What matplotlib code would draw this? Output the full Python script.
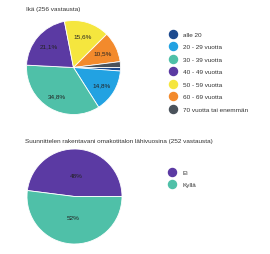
import matplotlib
matplotlib.use("Agg")
import matplotlib.pyplot as plt
from matplotlib.lines import Line2D

plt.rcParams['font.family'] = ['Liberation Sans', 'DejaVu Sans']

# --- Data ---
age_title = "Ikä (256 vastausta)"
age_labels = ["alle 20", "20 - 29 vuotta", "30 - 39 vuotta", "40 - 49 vuotta",
              "50 - 59 vuotta", "60 - 69 vuotta", "70 vuotta tai enemmän"]
age_values = [1.2, 14.8, 34.8, 21.1, 15.6, 10.5, 2.0]
age_colors = ["#1d4a8e", "#22a2e2", "#4fc0a8", "#5b3aa3", "#f5e63e", "#f38a2c", "#4a525b"]

plan_title = "Suunnittelen rakentavani omakotitalon lähivuosina (252 vastausta)"
plan_labels = ["Ei", "Kyllä"]
plan_values = [48, 52]
plan_colors = ["#5b3aa3", "#4fc0a8"]

W, H = 270, 255
fig = plt.figure(figsize=(W / 100, H / 100), dpi=100)
fig.patch.set_facecolor("white")

def fmt_dec(p):
    return "" if p < 5 else ("%.1f%%" % p).replace(".", ",")

def fmt_int(p):
    return "%d%%" % round(p)

def pie_axes(cx, cy, r):
    return fig.add_axes([(cx - r) / W, (H - cy - r) / H, 2 * r / W, 2 * r / H])

FS = 4.6
txtc = "#333333"

# Pie 1
ax1 = pie_axes(73.5, 68.5, 47)
w1, t1, a1 = ax1.pie(age_values, colors=age_colors, startangle=0, counterclock=False,
                     autopct=fmt_dec, pctdistance=0.7,
                     wedgeprops=dict(edgecolor="white", linewidth=0.6),
                     textprops=dict(fontsize=FS, color="#222222"))
ax1.set_xlim(-1, 1); ax1.set_ylim(-1, 1); ax1.set_aspect("equal")
fig.text(26 / W, 1 - 10 / H, age_title, fontsize=FS, color=txtc, va="center", ha="left")

h1 = [Line2D([], [], linestyle="none", marker="o", markersize=5.8,
             markerfacecolor=c, markeredgecolor=c) for c in age_colors]
fig.legend(h1, age_labels, loc="upper left", bbox_to_anchor=(169.6 / W, 1 - 32.5 / H),
           frameon=False, fontsize=FS, borderpad=0, borderaxespad=0,
           handlelength=1.0, handletextpad=1.15, labelspacing=1.1, labelcolor=txtc)

# Pie 2
ax2 = pie_axes(74.5, 197.5, 47.5)
w2, t2, a2 = ax2.pie(plan_values, colors=plan_colors, startangle=0, counterclock=True,
                     autopct=fmt_int, pctdistance=0.45,
                     wedgeprops=dict(edgecolor="white", linewidth=0.6),
                     textprops=dict(fontsize=FS, color="#222222"))
ax2.set_xlim(-1, 1); ax2.set_ylim(-1, 1); ax2.set_aspect("equal")
fig.text(25 / W, 1 - 141 / H, plan_title, fontsize=FS, color=txtc, va="center", ha="left")

h2 = [Line2D([], [], linestyle="none", marker="o", markersize=5.8,
             markerfacecolor=c, markeredgecolor=c) for c in plan_colors]
fig.legend(h2, plan_labels, loc="upper left", bbox_to_anchor=(169.2 / W, 1 - 170.3 / H),
           frameon=False, fontsize=FS, borderpad=0, borderaxespad=0,
           handlelength=1.0, handletextpad=1.15, labelspacing=1.1, labelcolor=txtc)

fig.savefig("out.png", dpi=100, facecolor="white")
